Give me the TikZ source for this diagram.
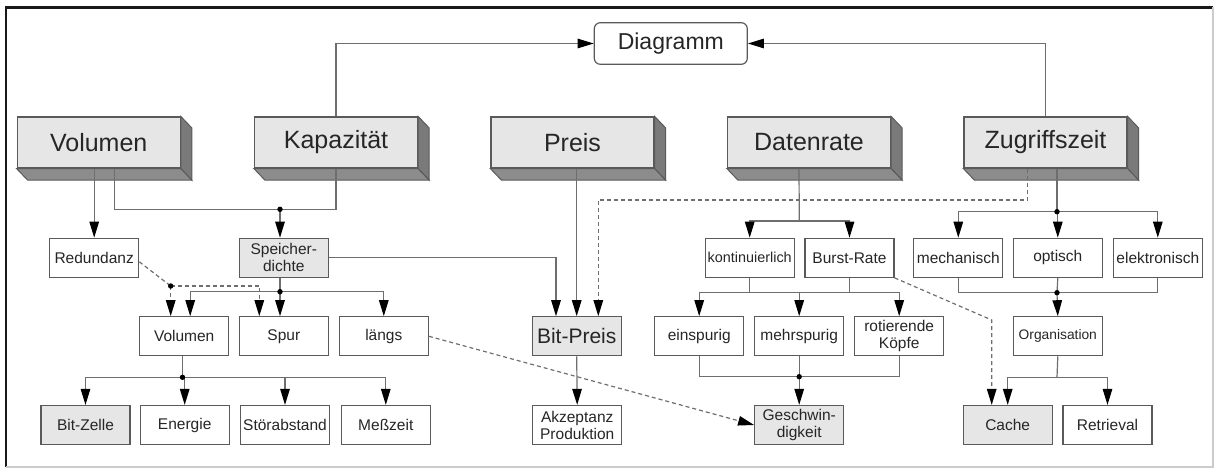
\documentclass[tikz,border=0pt]{standalone}
\usepackage{fontspec}
\setmainfont{Liberation Sans}
\usetikzlibrary{arrows.meta,calc}
\definecolor{face}{HTML}{E6E6E6}
\definecolor{side}{HTML}{7A7A7A}
\definecolor{bottom}{HTML}{8C8C8C}
\definecolor{edge}{HTML}{5A5A5A}
\definecolor{wire}{HTML}{6E6E6E}
\tikzset{
  % plain box of the lower rows
  small box/.style={draw=edge, line width=1.2, fill=white, minimum width=89,
    minimum height=39, inner sep=1, align=center, text=black!85,
    font=\fontsize{15.5}{17}\selectfont},
  % grey box of the lower rows
  grey box/.style={small box, fill=face},
  % raised box of the top row
  top box/.style={draw=edge, line width=1.2, fill=face, minimum width=163,
    minimum height=51, text=black!85, font=\fontsize{25}{28}\selectfont},
  % connectors
  conn/.style={draw=wire, line width=1.2},
  dash line/.style={draw=wire, line width=1.2, dash pattern=on 4pt off 3pt},
  arr/.style={-{Triangle[length=16pt,width=9.5pt,color=black]}},
}

\begin{document}
\begin{tikzpicture}[x=1pt,y=-1pt]
  \useasboundingbox (0,0) rectangle (1219,468);
  % frame
  \draw[line width=2.5, black!90] (6,467) -- (6,7.5) -- (1213,7.5);
  \draw[line width=1.5, black!20] (1213,7.5) -- (1213,467) -- (6,467);

  \node[draw=edge, line width=1.2, rounded corners=6, minimum width=153,
    minimum height=41.6, text=black!85, font=\fontsize{23}{26}\selectfont]
    (diag) at (670.8,43.5) {Diagramm};

  % top row
  \node[top box] (vol) at (98.7,142.5) {Volumen};
  \node[top box] (kap) at (336,142.5) {Kapazität};
  \node[top box] (preis) at (572.5,142.5) {Preis};
  \node[top box] (rate) at (809,142.5) {Datenrate};
  \node[top box] (zug) at (1045.5,142.5) {Zugriffszeit};
  \foreach \n in {vol,kap,preis,rate,zug}{
    \filldraw[fill=side, draw=edge, line width=1] (\n.north east) -- ++(11,11.5)
      -- ($(\n.south east)+(11,11.5)$) -- (\n.south east) -- cycle;
    \filldraw[fill=bottom, draw=edge, line width=1] (\n.south west) -- ++(11,11.5)
      -- ($(\n.south east)+(11,11.5)$) -- (\n.south east) -- cycle;
  }

  % second row
  \node[small box] (red) at (94.2,257.8) {Redundanz};
  \node[grey box] (spd) at (283.8,257.8) {Speicher-\\dichte};
  \node[small box, font=\fontsize{14.4}{17}\selectfont] (kont) at (749.7,257.8) {kontinuierlich};
  \node[small box] (burst) at (849.5,257.8) {Burst-Rate};
  \node[small box] (mech) at (958.3,257.8) {mechanisch};
  \node[small box] (opt) at (1057.8,257.8) {optisch};
  \node[small box] (elek) at (1157.8,257.8) {elektronisch};

  % third row
  \node[small box] (vol2) at (184.2,336.3) {Volumen};
  \node[small box] (spur) at (283.8,336.3) {Spur};
  \node[small box] (laengs) at (383.8,336.3) {längs};
  \node[grey box, font=\fontsize{21}{24}\selectfont] (bitpreis) at (576.7,336.3) {Bit-Preis};
  \node[small box] (ein) at (699.2,336.3) {einspurig};
  \node[small box] (mehr) at (799.2,336.3) {mehrspurig};
  \node[small box] (rot) at (899.2,336.3) {rotierende\\Köpfe};
  \node[small box, font=\fontsize{13.8}{16}\selectfont] (org) at (1057.8,336.3) {Organisation};

  % bottom row
  \node[grey box] (bitz) at (85.5,425) {Bit-Zelle};
  \node[small box] (energie) at (184.7,425) {Energie};
  \node[small box] (stoer) at (285,425) {Störabstand};
  \node[small box] (mess) at (385.8,425) {Meßzeit};
  \node[small box] (akz) at (577.2,425) {Akzeptanz\\Produktion};
  \node[grey box] (gesch) at (799.2,425) {Geschwin-\\digkeit};
  \node[grey box] (cache) at (1007.7,425) {Cache};
  \node[small box] (retr) at (1107.5,425) {Retrieval};

  % junctions
  \coordinate (jkap) at (280,209.3);
  \coordinate (jspd) at (280,291.7);
  \coordinate (jred) at (170.7,286);
  \coordinate (jvol) at (182.5,377.3);
  \coordinate (jzdash) at (598.3,200);
  \coordinate (jrate) at (799.3,221);
  \coordinate (jzug) at (1057,211.7);
  \coordinate (jkont) at (799.2,292.7);
  \coordinate (jein) at (799.2,376.7);
  \coordinate (jopt) at (1057,292.7);
  \coordinate (jorg) at (1057,377.3);
  \coordinate (jburst) at (991.7,320);

  \draw[conn,arr] (kap.north) |- (diag.west);
  \draw[conn,arr] (zug.north) |- (diag.east);

  \draw[conn,arr] (red.north |- vol.south) -- (red.north);
  \draw[conn] ([xshift=16]vol.south) |- (jkap) -| (kap.south);
  \draw[conn,arr] (jkap) -- (spd.north -| jkap);
  \draw[conn,arr] (spd.east) -| ([xshift=-20.7]bitpreis.north);
  \draw[conn,arr] (bitpreis.north |- preis.south) -- (bitpreis.north);
  \draw[dash line,arr] ([xshift=-18]zug.south) |- (jzdash) -- (jzdash |- bitpreis.north);
  \draw[conn,arr] (bitpreis.south) -- (akz.north);

  \draw[conn] (spd.south -| jspd) -- (jspd);
  \draw[conn,arr] (jspd) -| ([xshift=6]vol2.north);
  \draw[conn,arr] (jspd) -- (jspd |- spur.north);
  \draw[conn,arr] (jspd) -| (laengs.north);
  \draw[dash line] ([yshift=-4]red.east) -- (jred);
  \draw[dash line,arr] (jred) -- (jred |- vol2.north);
  \draw[dash line,arr] (jred) -| ([xshift=-24.5]spur.north);
  \draw[dash line,arr] (laengs.east) -- (gesch.west);

  \draw[conn] (vol2.south -| jvol) -- (jvol);
  \foreach \n in {bitz,energie,stoer,mess}
    \draw[conn,arr] (jvol) -| (\n.north);

  \draw[conn] ([xshift=-10]rate.south) -- (jrate);
  \draw[conn,arr] (jrate) -| (kont.north);
  \draw[conn,arr] (jrate) -| (burst.north);
  \draw[conn] (kont.south) -- (kont.south |- jkont);
  \draw[conn] (burst.south) -- (burst.south |- jkont);
  \foreach \n in {ein,mehr,rot}
    \draw[conn,arr] (jkont) -| (\n.north);
  \draw[conn] (ein.south) |- (jein) -| (rot.south);
  \draw[conn] (mehr.south) -- (jein);
  \draw[conn,arr] (jein) -- (gesch.north);
  \draw[dash line,arr] (burst.south east) -- (jburst) -- (jburst |- cache.north);

  \draw[conn] (jzug |- zug.south) -- (jzug);
  \foreach \n in {mech,opt,elek}
    \draw[conn,arr] (jzug) -| (\n.north);
  \draw[conn] (mech.south) |- (jopt) -| (elek.south);
  \draw[conn] (opt.south) -- (jopt);
  \draw[conn,arr] (jopt) -- (org.north);
  \draw[conn] (org.south) -- (jorg);
  \draw[conn,arr] (jorg) -| (cache.north);
  \draw[conn,arr] (jorg) -| (retr.north);

  % dots
  \foreach \j in {jkap,jspd,jred,jvol,jzug,jopt,jein}
    \fill (\j) circle (2.7);
\end{tikzpicture}
\end{document}
